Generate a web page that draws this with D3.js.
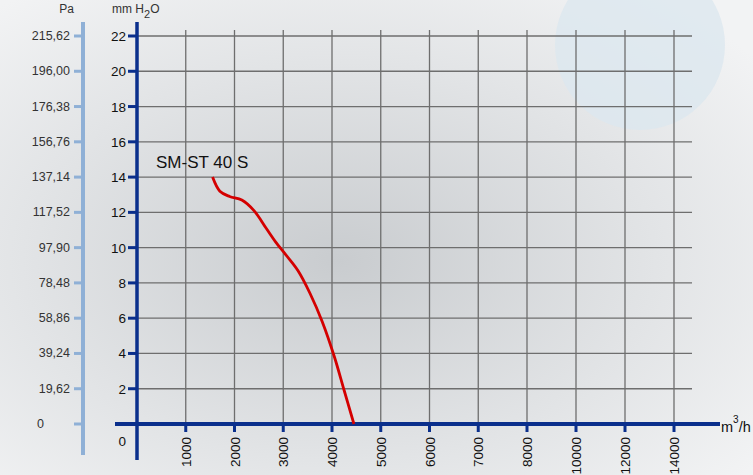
<!DOCTYPE html>
<html><head><meta charset="utf-8">
<script src="https://cdn.jsdelivr.net/npm/d3@7"></script>
<style>body{margin:0;overflow:hidden}svg{display:block;font-family:Arial,"Liberation Sans",sans-serif}</style>
</head><body>
<script>
const W = 753, H = 475;
const flowTicks = [1000,2000,3000,4000,5000,6000,7000,8000,10000,12000,14000];
const mmTicks = [2,4,6,8,10,12,14,16,18,20,22];
const paLabels = ["0","19,62","39,24","58,86","78,48","97,90","117,52","137,14","156,76","176,38","196,00","215,62"];
const curveFlow = [1550,1700,1900,2150,2400,2650,2850,3050,3300,3550,3800,4050,4250,4450];
const curveMm =   [14,13.2,12.9,12.7,12.1,11.1,10.3,9.6,8.7,7.4,5.8,3.8,1.9,0];

const svg = d3.select("body").append("svg").attr("width",W).attr("height",H);

// background, a faint grey wash like the photo behind the chart
const g = svg.append("defs").append("radialGradient").attr("id","bg").attr("cx","0.45").attr("cy","0.55").attr("r","0.7");
g.append("stop").attr("offset","0").attr("stop-color","#c9cccf");
g.append("stop").attr("offset","0.6").attr("stop-color","#e2e4e6");
g.append("stop").attr("offset","1").attr("stop-color","#f2f3f4");
svg.append("rect").attr("width",W).attr("height",H).attr("fill","url(#bg)");
svg.append("circle").attr("cx",640).attr("cy",45).attr("r",85).attr("fill","#dce7ef").attr("opacity",0.8);

const x = d3.scaleLinear().domain([0,8000,14000]).range([137,527,674]);
const y = d3.scaleLinear().domain([0,22]).range([424,36]);

// grid
const grid = svg.append("g").attr("stroke","#6e6e6e").attr("stroke-width",1.3);
grid.selectAll("line.v").data(flowTicks).join("line")
  .attr("x1",d=>x(d)).attr("x2",d=>x(d)).attr("y1",y(22)-6).attr("y2",y(0));
grid.selectAll("line.h").data(mmTicks).join("line")
  .attr("x1",x(0)).attr("x2",692).attr("y1",d=>y(d)).attr("y2",d=>y(d));

// Pa axis
svg.append("line").attr("x1",83).attr("x2",83).attr("y1",22).attr("y2",455).attr("stroke","#8fb0d6").attr("stroke-width",4);
const paVals = [0].concat(mmTicks);
svg.selectAll("line.pt").data(paVals).join("line")
  .attr("x1",74).attr("x2",81).attr("y1",d=>y(d)).attr("y2",d=>y(d)).attr("stroke","#8fb0d6").attr("stroke-width",3);
svg.selectAll("text.pa").data(paVals).join("text")
  .attr("x",d=>d===0?44:70).attr("y",d=>y(d)+4).attr("text-anchor","end")
  .attr("font-size",12.5).attr("fill","#333").text((d,i)=>paLabels[i]);
svg.append("text").attr("x",74).attr("y",13).attr("text-anchor","end").attr("font-size",12).attr("fill","#333").text("Pa");

// mm H2O axis
svg.append("line").attr("x1",137).attr("x2",137).attr("y1",22).attr("y2",460).attr("stroke","#0a2f8c").attr("stroke-width",3.5);
svg.selectAll("line.mt").data(mmTicks).join("line")
  .attr("x1",128).attr("x2",136).attr("y1",d=>y(d)).attr("y2",d=>y(d)).attr("stroke","#0a2f8c").attr("stroke-width",3);
svg.selectAll("text.mm").data(mmTicks).join("text")
  .attr("x",126).attr("y",d=>y(d)+5).attr("text-anchor","end").attr("font-size",13.5).attr("fill","#111").text(d=>d);
const t = svg.append("text").attr("x",112).attr("y",13).attr("font-size",12).attr("fill","#333");
t.append("tspan").text("mm H");
t.append("tspan").attr("dy",5).attr("font-size",11).text("2");
t.append("tspan").attr("dy",-5).text("O");

// flow axis
svg.append("line").attr("x1",115).attr("x2",720).attr("y1",y(0)).attr("y2",y(0)).attr("stroke","#0a2f8c").attr("stroke-width",4);
svg.selectAll("line.xt").data(flowTicks).join("line")
  .attr("x1",d=>x(d)).attr("x2",d=>x(d)).attr("y1",y(0)).attr("y2",y(0)+8).attr("stroke","#0a2f8c").attr("stroke-width",3);
svg.selectAll("text.fx").data(flowTicks).join("text")
  .attr("transform",d=>`translate(${x(d)+5},${y(0)+13}) rotate(-90)`).attr("text-anchor","end")
  .attr("font-size",13.5).attr("fill","#111").text(d=>d);
svg.append("text").attr("x",126).attr("y",y(0)+22).attr("text-anchor","end").attr("font-size",13.5).attr("fill","#111").text("0");
const u = svg.append("text").attr("x",721).attr("y",y(0)+8).attr("font-size",14.5).attr("fill","#111");
u.append("tspan").text("m");
u.append("tspan").attr("dy",-9).attr("font-size",10).text("3");
u.append("tspan").attr("dy",9).text("/h");

// curve
const pts = curveFlow.map((f,i)=>[x(f),y(curveMm[i])]);
svg.append("path").attr("d",d3.line().curve(d3.curveCatmullRom)(pts))
  .attr("fill","none").attr("stroke","#d40000").attr("stroke-width",2.8);
svg.append("text").attr("x",156).attr("y",168).attr("font-size",17).attr("fill","#111").text("SM-ST 40 S");
</script>
</body></html>
